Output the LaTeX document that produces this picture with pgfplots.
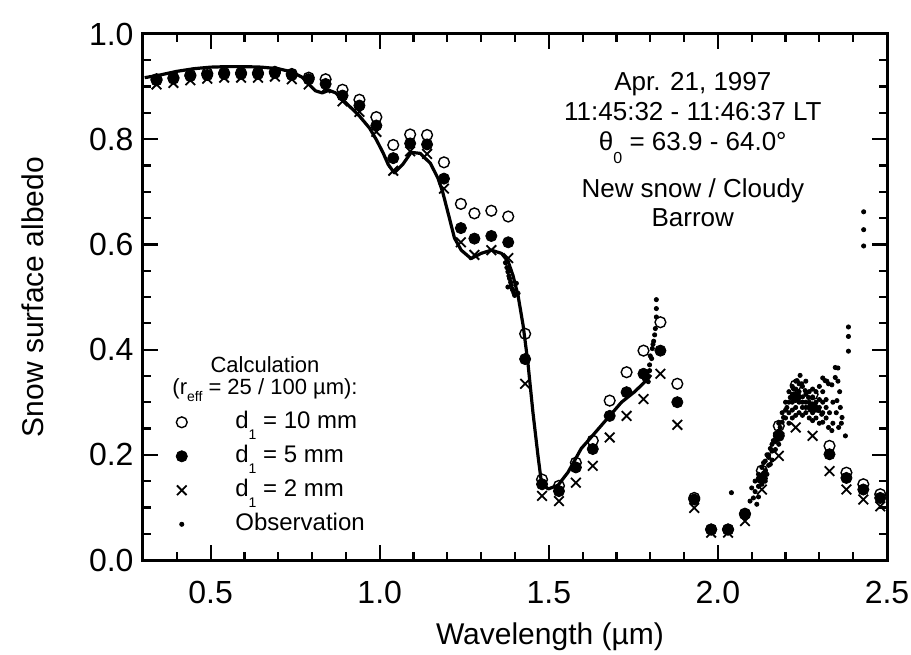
\documentclass[border=0pt]{standalone}
\usepackage{fontspec}
\setmainfont{Liberation Sans}
\usepackage{pgfplots}
\usepackage{pgfplotstable}
\pgfplotsset{compat=1.18}

% calculated albedo for the three depths d1 = 10, 5, 2 mm
\pgfplotstableread{
lam   circ  fill  cross
0.34  0.914 0.912 0.904
0.39  0.917 0.915 0.907
0.44  0.922 0.920 0.912
0.49  0.925 0.922 0.915
0.54  0.926 0.924 0.917
0.59  0.926 0.924 0.917
0.64  0.926 0.924 0.917
0.69  0.928 0.926 0.919
0.74  0.924 0.922 0.914
0.79  0.917 0.914 0.904
0.84  0.914 0.905 0.897
0.89  0.894 0.883 0.872
0.94  0.875 0.864 0.852
0.99  0.842 0.826 0.814
1.04  0.789 0.764 0.740
1.09  0.809 0.792 0.777
1.14  0.808 0.790 0.772
1.19  0.756 0.725 0.706
1.24  0.677 0.631 0.604
1.28  0.659 0.611 0.580
1.33  0.664 0.616 0.589
1.38  0.653 0.604 0.574
1.43  0.430 0.382 0.335
1.48  0.153 0.144 0.122
1.53  0.141 0.131 0.112
1.58  0.185 0.176 0.147
1.63  0.227 0.211 0.179
1.68  0.303 0.274 0.233
1.73  0.357 0.319 0.274
1.78  0.398 0.354 0.306
1.83  0.452 0.398 0.354
1.88  0.335 0.300 0.257
1.93  0.118 0.115 0.099
1.98  0.058 0.058 0.052
2.03  0.058 0.058 0.052
2.08  0.088 0.087 0.074
2.13  0.170 0.155 0.134
2.18  0.255 0.236 0.198
2.23  0.332 0.310 0.252
2.28  0.315 0.290 0.236
2.33  0.217 0.201 0.169
2.38  0.166 0.156 0.134
2.43  0.144 0.134 0.115
2.48  0.125 0.118 0.102
}\calc

% solid curve
\pgfplotstableread{
lam alb
0.305 0.917
0.35 0.922
0.40 0.929
0.45 0.934
0.50 0.937
0.55 0.938
0.60 0.938
0.65 0.937
0.70 0.934
0.74 0.928
0.77 0.918
0.79 0.905
0.81 0.892
0.83 0.888
0.85 0.893
0.87 0.888
0.91 0.863
0.94 0.844
0.97 0.821
0.99 0.799
1.01 0.774
1.025 0.752
1.043 0.736
1.068 0.752
1.093 0.775
1.12 0.773
1.15 0.754
1.172 0.726
1.186 0.700
1.206 0.650
1.221 0.612
1.241 0.589
1.27 0.573
1.30 0.583
1.33 0.589
1.36 0.583
1.38 0.567
1.394 0.541
1.409 0.503
1.424 0.446
1.438 0.376
1.453 0.281
1.468 0.198
1.478 0.148
1.498 0.135
1.527 0.142
1.557 0.167
1.596 0.212
1.626 0.234
1.665 0.263
1.715 0.300
1.754 0.320
1.794 0.345
1.802 0.352
}\curve

% observation
\pgfplotstableread{
lam alb
1.372 0.565
1.376 0.556
1.379 0.548
1.382 0.540
1.384 0.535
1.387 0.528
1.389 0.522
1.392 0.515
1.394 0.512
1.397 0.507
1.399 0.503
1.379 0.519
1.385 0.550
1.404 0.526
1.409 0.507
1.818 0.495
1.818 0.478
1.818 0.462
1.815 0.440
1.813 0.428
1.810 0.416
1.808 0.410
1.806 0.402
1.804 0.383
1.800 0.388
1.798 0.371
1.798 0.360
1.789 0.352
1.783 0.344
1.794 0.339
2.040 0.128
2.095 0.112
2.100 0.137
2.105 0.118
2.110 0.150
2.110 0.130
2.115 0.106
2.120 0.163
2.120 0.140
2.120 0.120
2.125 0.150
2.130 0.176
2.130 0.160
2.130 0.144
2.135 0.185
2.135 0.165
2.140 0.188
2.140 0.170
2.140 0.150
2.145 0.163
2.145 0.200
2.150 0.195
2.150 0.180
2.150 0.200
2.155 0.182
2.155 0.212
2.160 0.207
2.160 0.190
2.160 0.220
2.164 0.227
2.170 0.210
2.170 0.240
2.170 0.225
2.174 0.239
2.180 0.220
2.180 0.260
2.180 0.245
2.184 0.252
2.190 0.240
2.190 0.280
2.190 0.262
2.194 0.271
2.200 0.270
2.200 0.300
2.200 0.285
2.204 0.290
2.210 0.260
2.210 0.280
2.210 0.320
2.210 0.300
2.214 0.309
2.220 0.270
2.220 0.300
2.220 0.330
2.220 0.315
2.220 0.285
2.224 0.325
2.230 0.290
2.230 0.310
2.230 0.340
2.230 0.325
2.230 0.275
2.234 0.341
2.240 0.280
2.240 0.300
2.240 0.320
2.240 0.335
2.240 0.310
2.243 0.351
2.248 0.335
2.250 0.290
2.250 0.310
2.250 0.330
2.250 0.300
2.250 0.275
2.258 0.322
2.260 0.280
2.260 0.300
2.260 0.340
2.260 0.315
2.260 0.290
2.268 0.309
2.270 0.270
2.270 0.290
2.270 0.320
2.270 0.300
2.278 0.296
2.280 0.280
2.280 0.310
2.280 0.265
2.280 0.325
2.288 0.290
2.290 0.270
2.290 0.300
2.290 0.320
2.290 0.285
2.298 0.284
2.300 0.260
2.300 0.290
2.300 0.330
2.300 0.305
2.307 0.277
2.310 0.280
2.310 0.300
2.310 0.320
2.310 0.346
2.310 0.262
2.317 0.341
2.320 0.270
2.320 0.290
2.320 0.305
2.322 0.340
2.327 0.335
2.327 0.252
2.330 0.280
2.337 0.246
2.337 0.333
2.340 0.260
2.340 0.300
2.347 0.366
2.347 0.347
2.350 0.280
2.352 0.303
2.355 0.340
2.355 0.365
2.357 0.252
2.360 0.320
2.362 0.290
2.365 0.260
2.367 0.271
2.377 0.236
2.386 0.443
2.386 0.425
2.386 0.397
2.431 0.662
2.431 0.628
2.431 0.597
}\obs

\begin{document}
\begin{tikzpicture}
\useasboundingbox (-71.5pt,-47pt) rectangle (384pt,280pt);
\begin{axis}[
  at={(0pt,0pt)}, anchor=south west,
  scale only axis, width=372pt, height=263pt,
  xmin=0.3, xmax=2.5, ymin=0, ymax=1,
  xtick={0.5,1.0,1.5,2.0,2.5},
  minor xtick={0.4,0.6,0.7,0.8,0.9,1.1,1.2,1.3,1.4,1.6,1.7,1.8,1.9,2.1,2.2,2.3,2.4},
  ytick={0,0.2,0.4,0.6,0.8,1.0},
  minor ytick={0.05,0.1,0.15,0.25,0.3,0.35,0.45,0.5,0.55,0.65,0.7,0.75,0.85,0.9,0.95},
  xtick pos=both, ytick pos=both,
  xticklabel pos=lower, yticklabel pos=left,
  tick align=inside,
  major tick length=7.5pt, minor tick length=4pt,
  every tick/.style={black, line width=1.1pt},
  axis line style={line width=1.5pt},
  /pgf/number format/.cd, fixed, fixed zerofill, precision=1, assume math mode=true,
  /pgfplots/.cd,
  ticklabel style={font=\fontsize{16}{18}\selectfont},
  xticklabel style={yshift=-7pt},
  yticklabel style={xshift=-1.2pt},
  xlabel={Wavelength (µm)},
  ylabel={Snow surface albedo},
  label style={font=\fontsize{15}{17}\selectfont},
  xlabel style={at={(axis description cs:0.547,-0.146)}, anchor=center},
  ylabel style={at={(axis description cs:-0.148,0.5)}, anchor=center},
  legend style={at={(axis description cs:0.036,0.293)}, anchor=north west,
    draw=none, fill=none, font=\fontsize{12}{14}\selectfont, row sep=5pt,
    nodes={inner sep=0pt, text height=9pt, text depth=3pt},
    /tikz/every odd column/.append style={column sep=24pt}},
  legend cell align=left,
  legend image code/.code={\draw[#1] plot coordinates {(0pt,0pt)};},
]
\addplot[forget plot, black, line width=1.6pt, line join=round] table[x=lam, y=alb] {\curve};
\addplot[only marks, mark=o, mark size=2.7pt, mark options={line width=0.7pt}] table[x=lam, y=circ] {\calc};
\addlegendentry{d\raisebox{-0.85ex}{\scriptsize 1}\ = 10 mm}
\addplot[only marks, mark=*, mark size=2.8pt] table[x=lam, y=fill] {\calc};
\addlegendentry{d\raisebox{-0.85ex}{\scriptsize 1}\ = 5 mm}
\addplot[only marks, mark=x, mark size=3.4pt, mark options={line width=0.9pt}] table[x=lam, y=cross] {\calc};
\addlegendentry{d\raisebox{-0.85ex}{\scriptsize 1}\ = 2 mm}
\addplot[only marks, mark=*, mark size=1.05pt] table[x=lam, y=alb] {\obs};
\addlegendentry{Observation}

\node[font=\fontsize{11}{13}\selectfont] at (axis description cs:0.164,0.371) {Calculation};
\node[font=\fontsize{11}{13}\selectfont] at (axis description cs:0.164,0.323) {(r\raisebox{-0.6ex}{\scriptsize eff} = 25 / 100 µm):};

\node[align=center, font=\fontsize{13}{15}\selectfont] at (axis description cs:0.739,0.840)
  {Apr. 21, 1997\\11:45:32 - 11:46:37 LT\\θ\raisebox{-0.9ex}{\footnotesize 0} = 63.9 - 64.0°};
\node[align=center, font=\fontsize{13}{14.5}\selectfont] at (axis description cs:0.739,0.680)
  {New snow / Cloudy\\Barrow};
\end{axis}
\end{tikzpicture}
\end{document}
